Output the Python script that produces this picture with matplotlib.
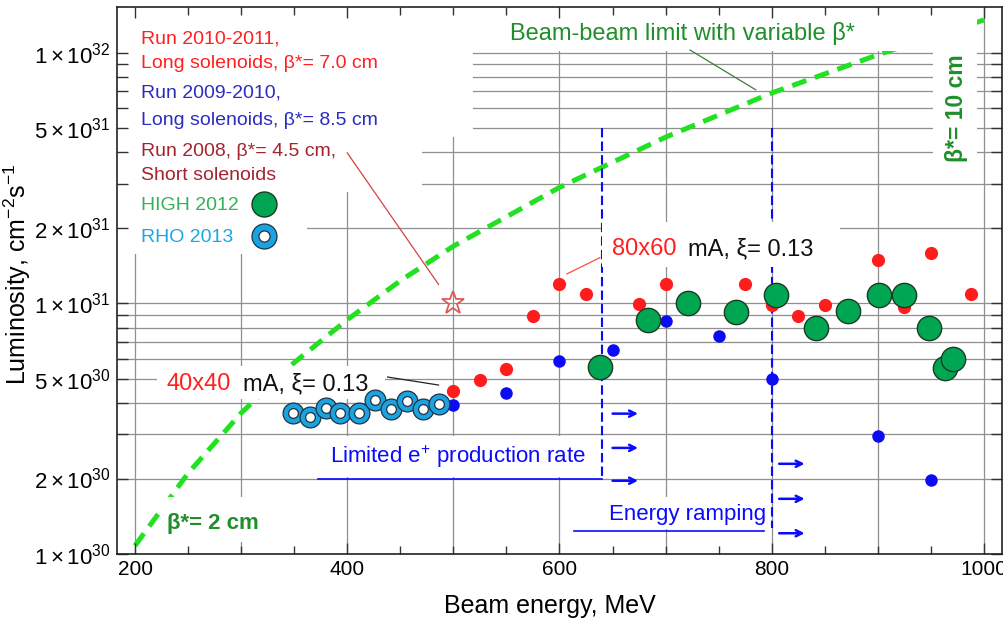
import numpy as np
import matplotlib
matplotlib.use('Agg')
import matplotlib.pyplot as plt
from matplotlib.patches import Rectangle
from matplotlib.ticker import FixedLocator, MultipleLocator, NullFormatter

plt.rcParams['font.family'] = ['Liberation Sans', 'DejaVu Sans']
plt.rcParams['mathtext.fontset'] = 'custom'
plt.rcParams['mathtext.rm'] = 'Liberation Sans'
plt.rcParams['mathtext.it'] = 'Liberation Sans:italic'
plt.rcParams['mathtext.bf'] = 'Liberation Sans:bold'

# Run 2010-2011, long solenoids, beta*=7.0 cm
run11_E = [500, 525, 550, 575, 600, 625, 675, 700, 775, 800, 825, 850, 900, 925, 950, 988]
run11_L = [4.45e30, 4.95e30, 5.45e30, 8.9e30, 1.19e31, 1.09e31, 9.9e30, 1.19e31,
           1.19e31, 9.8e30, 8.9e30, 9.8e30, 1.49e31, 9.7e30, 1.59e31, 1.09e31]
# Run 2009-2010, long solenoids, beta*=8.5 cm
run10_E = [500, 550, 600, 650, 700, 750, 800, 900, 950]
run10_L = [3.93e30, 4.4e30, 5.9e30, 6.5e30, 8.5e30, 7.4e30, 5.0e30, 2.95e30, 1.97e30]
# Run 2008, short solenoids
run08_E = [500]
run08_L = [1.0e31]
# HIGH 2012 scan
high_E = [638, 683, 721, 766, 804, 842, 872, 901, 925, 948, 963, 971]
high_L = [5.55e30, 8.6e30, 1.0e31, 9.2e30, 1.08e31, 8.0e30, 9.3e30, 1.08e31,
          1.08e31, 8.0e30, 5.5e30, 6.0e30]
# RHO 2013 scan
rho_E = [349, 365, 380, 393, 411, 426, 441, 456, 471, 486]
rho_L = [3.66e30, 3.53e30, 3.84e30, 3.64e30, 3.66e30, 4.12e30, 3.79e30, 4.06e30,
         3.79e30, 3.95e30]
# beam-beam limit with variable beta*
lim_E = [200, 250, 300, 350, 400, 450, 500, 600, 700, 800, 900, 1000]
lim_L = [1.08e30, 2.1e30, 3.65e30, 5.8e30, 8.6e30, 1.23e31, 1.69e31, 2.9e31,
         4.6e31, 6.9e31, 9.8e31, 1.35e32]

# limits of positron production / energy ramping
lim_pos_E = 640
lim_ramp_E = 800
arrows_pos_L = [3.63e30, 2.65e30, 1.96e30]
arrows_ramp_L = [2.29e30, 1.66e30, 1.21e30]

yticks = [1e30, 2e30, 5e30, 1e31, 2e31, 5e31, 1e32]
ytick_labels = [r'$1\times10^{30}$', r'$2\times10^{30}$', r'$5\times10^{30}$',
                r'$1\times10^{31}$', r'$2\times10^{31}$', r'$5\times10^{31}$',
                r'$1\times10^{32}$']

W, H = 1004, 620
fig = plt.figure(figsize=(W / 100, H / 100), dpi=100)
ax = fig.add_axes([117 / W, 1 - 554 / H, 885 / W, 547 / H])
ax.set_yscale('log')
ax.set_xlim(183, 1017)
ax.set_ylim(1e30, 1.52e32)


def fpos(x, y):
    return (x / W, 1 - y / H)


def white_box(x0, y0, x1, y1, z=1):
    ax.add_patch(Rectangle(fpos(x0, y1), (x1 - x0) / W, (y1 - y0) / H,
                           transform=fig.transFigure, fc='white', ec='none', zorder=z))


def ftext(x, y, s, **kw):
    kw.setdefault('va', 'baseline')
    kw.setdefault('ha', 'left')
    kw.setdefault('zorder', 6)
    return ax.text(*fpos(x, y), s, transform=fig.transFigure, **kw)


# grid
gcol = '#8f8f8f'
for x in range(200, 1001, 100):
    ax.axvline(x, color=gcol, lw=0.9, zorder=0.5)
for e in (30, 31):
    for k in range(1, 10):
        ax.axhline(k * 10.0 ** e, color=gcol, lw=0.9, zorder=0.5)
ax.axhline(1e32, color=gcol, lw=0.9, zorder=0.5)

# white label areas
white_box(118, 7, 473, 137)
white_box(118, 137, 422, 192)
white_box(118, 192, 307, 254)
white_box(473, 8, 933, 51)
white_box(933, 8, 977, 170)
white_box(602, 222, 840, 267, z=2.2)
white_box(157, 366, 385, 399)
white_box(318, 436, 598, 477)
white_box(574, 497, 768, 529)
white_box(160, 497, 270, 542)

# beam-beam limit
ax.plot(lim_E, lim_L, color='#22e022', lw=3.6, dashes=(3, 1.8), zorder=0.9,
        solid_capstyle='butt', dash_capstyle='butt')

# energy limits
blue = '#0a0aff'
ax.plot([lim_pos_E, lim_pos_E], [5e31, 2e30], color=blue, lw=1.5, dashes=(4.5, 2), zorder=2)
ax.plot([lim_ramp_E, lim_ramp_E], [5e31, 1.27e30], color=blue, lw=1.5, dashes=(4.5, 2), zorder=2)
ax.plot([372, lim_pos_E], [2e30, 2e30], color=blue, lw=1.2, zorder=2)
ax.plot([614, 793], [1.23e30, 1.23e30], color=blue, lw=1.2, zorder=2)
for y in arrows_pos_L:
    ax.annotate('', xy=(674, y), xytext=(650, y),
                arrowprops=dict(arrowstyle='->', color=blue, lw=1.8, mutation_scale=11,
                                shrinkA=0, shrinkB=0), zorder=2)
for y in arrows_ramp_L:
    ax.annotate('', xy=(831, y), xytext=(807, y),
                arrowprops=dict(arrowstyle='->', color=blue, lw=1.8, mutation_scale=11,
                                shrinkA=0, shrinkB=0), zorder=2)

# leader lines
ax.plot([723, 785], [1.024e32, 7.1e31], color='#3d7d3d', lw=0.9, zorder=2)
ax.plot([400, 486], [3.98e31, 1.19e31], color='#d04444', lw=0.9, zorder=2)
ax.plot([607, 638], [1.31e31, 1.52e31], color='#ff4a4a', lw=0.9, zorder=2)
ax.plot([438, 486], [5.08e30, 4.72e30], color='#222222', lw=0.9, zorder=2)

# data
ax.plot(run11_E, run11_L, 'o', color='#ff1c1c', ms=9.5, mew=0, zorder=3)
ax.plot(run10_E, run10_L, 'o', color='#0b0bf5', ms=9, mew=0, zorder=3)
ax.plot(run08_E, run08_L, '*', mfc='none', mec='#e05a5a', ms=17, mew=1.3, zorder=3)
ax.plot(high_E, high_L, 'o', mfc='#00a651', mec='#1b3b25', ms=17.5, mew=1, zorder=4)
for i, (e, l) in enumerate(zip(rho_E, rho_L)):
    ax.plot([e], [l], 'o', mfc='#1aa3df', mec='#1f3344', ms=15, mew=0.9, zorder=5 + i * 0.01)
    ax.plot([e], [l], 'o', mfc='white', mec='#1f3344', ms=7, mew=0.9, zorder=5.005 + i * 0.01)

# legend block
lx = 141
ftext(lx, 43, 'Run 2010-2011,', color='#ff2020', fontsize=14)
ftext(lx, 68, 'Long solenoids, β*= 7.0 cm', color='#ff2020', fontsize=14)
ftext(lx, 98, 'Run 2009-2010,', color='#2c2cc0', fontsize=14)
ftext(lx, 125, 'Long solenoids, β*= 8.5 cm', color='#2c2cc0', fontsize=14)
ftext(lx, 156, 'Run 2008, β*= 4.5 cm,', color='#a5232f', fontsize=14)
ftext(lx, 180, 'Short solenoids', color='#a5232f', fontsize=14)
ftext(lx, 210, 'HIGH 2012', color='#33b25a', fontsize=14)
ftext(lx, 242, 'RHO 2013', color='#1aa7e6', fontsize=14)
ax.plot(*fpos(264, 204), 'o', mfc='#00a651', mec='#1b3b25', ms=18, mew=1,
        transform=fig.transFigure, zorder=6, clip_on=False)
ax.plot(*fpos(264, 236), 'o', mfc='#1aa3df', mec='#1f3344', ms=18, mew=0.9,
        transform=fig.transFigure, zorder=6, clip_on=False)
ax.plot(*fpos(264, 236), 'o', mfc='white', mec='#1f3344', ms=8, mew=0.9,
        transform=fig.transFigure, zorder=6.1, clip_on=False)

# annotations
dgreen = '#1f8f2a'
ftext(510, 40, 'Beam-beam limit with variable β*', color=dgreen, fontsize=17)
ftext(957, 108, 'β*= 10 cm', color=dgreen, fontsize=16.5, fontweight='bold',
      rotation=90, ha='center', va='center')
ftext(167, 529, 'β*= 2 cm', color=dgreen, fontsize=16, fontweight='bold')
ftext(612, 255, '80x60', color='#ff2020', fontsize=17)
ftext(688, 255, 'mA, ξ= 0.13', color='#111111', fontsize=17)
ftext(167, 390, '40x40', color='#ff2020', fontsize=17, zorder=1.5)
ftext(243, 390, 'mA, ξ= 0.13', color='#111111', fontsize=17, zorder=1.5)
ftext(330, 463, 'Limited e$^{+}$ production rate', color=blue, fontsize=16)
ftext(609, 520, 'Energy ramping', color=blue, fontsize=16)

# axes
ax.xaxis.set_major_locator(FixedLocator([200, 400, 600, 800, 1000]))
ax.xaxis.set_minor_locator(MultipleLocator(50))
ax.yaxis.set_major_locator(FixedLocator(yticks))
ax.set_yticklabels(ytick_labels)
minor_y = [k * 10.0 ** e for e in (30, 31) for k in range(1, 10)] + [1e32]
ax.yaxis.set_minor_locator(FixedLocator(minor_y))
ax.yaxis.set_minor_formatter(NullFormatter())
ax.tick_params(which='both', direction='in', top=True, right=True, width=1, color='#333333')
ax.tick_params(axis='x', which='major', length=8, labelsize=15, pad=4)
ax.tick_params(axis='x', which='minor', length=6)
ax.tick_params(axis='y', which='both', length=8, labelsize=16, pad=5)
for s in ax.spines.values():
    s.set_linewidth(1.2)
    s.set_color('#222222')
    s.set_zorder(7)

fig.text(550 / W, 1 - 613 / H, 'Beam energy, MeV', ha='center', va='baseline', fontsize=18)
fig.text(17 / W, 1 - 274 / H, 'Luminosity, cm$^{-2}$s$^{-1}$', ha='center', va='center',
         rotation=90, fontsize=18)

fig.savefig('out.png', dpi=100)
